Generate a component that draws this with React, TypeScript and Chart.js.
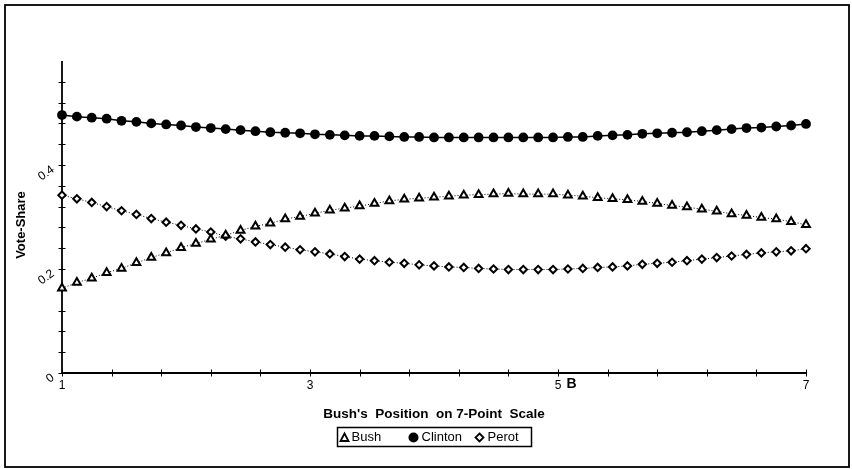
import { useEffect, useRef } from "react";
import { Chart, registerables } from "chart.js";

Chart.register(...registerables);

const positions = [1, 1.12, 1.24, 1.36, 1.48, 1.6, 1.72, 1.84, 1.96, 2.08, 2.2, 2.32, 2.44, 2.56, 2.68, 2.8, 2.92, 3.04, 3.16, 3.28, 3.4, 3.52, 3.64, 3.76, 3.88, 4, 4.12, 4.24, 4.36, 4.48, 4.6, 4.72, 4.84, 4.96, 5.08, 5.2, 5.32, 5.44, 5.56, 5.68, 5.8, 5.92, 6.04, 6.16, 6.28, 6.4, 6.52, 6.64, 6.76, 6.88, 7];

const bushShare = [0.163, 0.174, 0.182, 0.193, 0.201, 0.212, 0.222, 0.231, 0.241, 0.249,
  0.257, 0.265, 0.274, 0.282, 0.288, 0.296, 0.301, 0.307, 0.313, 0.317,
  0.321, 0.326, 0.331, 0.334, 0.336, 0.338, 0.340, 0.342, 0.343, 0.344,
  0.345, 0.344, 0.344, 0.344, 0.342, 0.340, 0.337, 0.335, 0.333, 0.330,
  0.326, 0.322, 0.319, 0.315, 0.311, 0.306, 0.303, 0.299, 0.296, 0.291, 0.285];

const clintonShare = [0.496, 0.493, 0.491, 0.489, 0.485, 0.483, 0.480, 0.478, 0.476, 0.473,
  0.471, 0.469, 0.467, 0.465, 0.463, 0.462, 0.461, 0.459, 0.458, 0.457,
  0.456, 0.456, 0.455, 0.454, 0.454, 0.453, 0.453, 0.453, 0.453, 0.453,
  0.453, 0.453, 0.453, 0.453, 0.454, 0.454, 0.456, 0.457, 0.458, 0.460,
  0.461, 0.462, 0.463, 0.465, 0.467, 0.469, 0.471, 0.472, 0.474, 0.476, 0.479];

const perotShare = [0.342, 0.335, 0.328, 0.320, 0.312, 0.305, 0.297, 0.290, 0.284, 0.277,
  0.271, 0.263, 0.258, 0.252, 0.247, 0.242, 0.237, 0.233, 0.229, 0.224,
  0.219, 0.216, 0.213, 0.211, 0.208, 0.206, 0.204, 0.203, 0.201, 0.200,
  0.199, 0.199, 0.199, 0.199, 0.200, 0.201, 0.203, 0.204, 0.206, 0.209,
  0.211, 0.213, 0.216, 0.219, 0.222, 0.225, 0.228, 0.231, 0.233, 0.235, 0.239];

const xTickLabels = [1, 3, 5, 7];
const yTickLabels = [0, 0.2, 0.4];
const xMinorStep = 0.4;
const yMinorStep = 0.04;
const X_MIN = 1, X_MAX = 7, Y_MIN = 0, Y_MAX = 0.6;
const bushMarkerPos = 5.11;

const FONT = "'Liberation Sans', Arial, Helvetica, sans-serif";

function pts(vals: number[]) {
  return vals.map((v, i) => ({ x: positions[i], y: v }));
}

const decor = {
  id: "decor",
  beforeDatasetsDraw(chart: any) {
    const { ctx, scales } = chart;
    const xs = scales.x, ys = scales.y;
    const x0 = xs.getPixelForValue(X_MIN), x1 = xs.getPixelForValue(X_MAX);
    const y0 = ys.getPixelForValue(Y_MIN), y1 = ys.getPixelForValue(Y_MAX);
    ctx.save();
    ctx.strokeStyle = "#000";
    ctx.lineWidth = 1.8;
    ctx.beginPath();
    ctx.moveTo(x0, y1);
    ctx.lineTo(x0, y0);
    ctx.lineTo(x1, y0);
    ctx.stroke();
    ctx.lineWidth = 1;
    ctx.beginPath();
    for (let v = X_MIN; v <= X_MAX + 1e-9; v += xMinorStep) {
      const p = Math.round(xs.getPixelForValue(v)) + 0.5;
      ctx.moveTo(p, y0 - 3.5);
      ctx.lineTo(p, y0 + 3.5);
    }
    for (let v = Y_MIN; v <= Y_MAX - 0.02; v += yMinorStep) {
      const p = Math.round(ys.getPixelForValue(v)) + 0.5;
      ctx.moveTo(x0 - 3.5, p);
      ctx.lineTo(x0 + 3.5, p);
    }
    ctx.stroke();
    ctx.restore();
  },
  afterDraw(chart: any) {
    const { ctx, scales, chartArea } = chart;
    const xs = scales.x, ys = scales.y;
    const x0 = xs.getPixelForValue(X_MIN);
    const y0 = ys.getPixelForValue(Y_MIN);
    const cx = (chartArea.left + chartArea.right) / 2;
    ctx.save();
    ctx.fillStyle = "#000";
    ctx.strokeStyle = "#000";

    // frame
    ctx.lineWidth = 1.8;
    ctx.strokeRect(5, 5, 844, 462);

    // y tick labels (tilted)
    ctx.font = `12px ${FONT}`;
    for (const v of yTickLabels) {
      const p = ys.getPixelForValue(v);
      ctx.save();
      ctx.translate(x0 - 7, p + 6);
      ctx.rotate(-Math.PI / 5);
      ctx.textAlign = "right";
      ctx.textBaseline = "alphabetic";
      ctx.fillText(String(v), 0, 0);
      ctx.restore();
    }

    // x tick labels
    ctx.textAlign = "center";
    ctx.textBaseline = "middle";
    ctx.font = `12px ${FONT}`;
    for (const v of xTickLabels) {
      ctx.fillText(String(v), xs.getPixelForValue(v), y0 + 13);
    }
    ctx.font = `bold 14px ${FONT}`;
    ctx.fillText("B", xs.getPixelForValue(bushMarkerPos), y0 + 11);

    // axis titles
    ctx.font = `bold 13.5px ${FONT}`;
    ctx.fillText("Bush's  Position  on 7-Point  Scale", cx, 414);
    ctx.save();
    ctx.translate(21, 225);
    ctx.rotate(-Math.PI / 2);
    ctx.font = `bold 13px ${FONT}`;
    ctx.fillText("Vote-Share", 0, 0);
    ctx.restore();

    // legend
    const bw = 194, bh = 19;
    const bx = Math.round(cx - bw / 2) + 0.5, by = 427.5;
    ctx.lineWidth = 1.5;
    ctx.strokeRect(bx, by, bw, bh);
    const ly = by + bh / 2 + 0.5;
    ctx.font = `13px ${FONT}`;
    ctx.textAlign = "left";
    // triangle
    ctx.lineWidth = 1.8;
    ctx.beginPath();
    ctx.moveTo(bx + 7, ly - 4);
    ctx.lineTo(bx + 11, ly + 3.5);
    ctx.lineTo(bx + 3, ly + 3.5);
    ctx.closePath();
    ctx.stroke();
    ctx.fillText("Bush", bx + 14, ly);
    // circle
    ctx.beginPath();
    ctx.arc(bx + 76, ly, 5, 0, Math.PI * 2);
    ctx.fill();
    ctx.fillText("Clinton", bx + 84, ly);
    // diamond
    ctx.beginPath();
    ctx.moveTo(bx + 142, ly - 4);
    ctx.lineTo(bx + 146, ly);
    ctx.lineTo(bx + 142, ly + 4);
    ctx.lineTo(bx + 138, ly);
    ctx.closePath();
    ctx.stroke();
    ctx.fillText("Perot", bx + 150, ly);
    ctx.restore();
  },
};

export default function App() {
  const ref = useRef<HTMLCanvasElement | null>(null);
  useEffect(() => {
    if (!ref.current) return;
    const chart = new Chart(ref.current, {
      type: "line",
      data: {
        datasets: [
          {
            label: "Bush",
            data: pts(bushShare),
            borderColor: "#000",
            borderWidth: 1,
            borderDash: [1, 2],
            pointStyle: "triangle",
            pointRadius: 4.5,
            pointBorderWidth: 2,
            pointBackgroundColor: "#fff",
            pointBorderColor: "#000",
            clip: false,
          },
          {
            label: "Clinton",
            data: pts(clintonShare),
            borderColor: "#000",
            borderWidth: 1.5,
            pointStyle: "circle",
            pointRadius: 4.9,
            pointBorderWidth: 0,
            pointBackgroundColor: "#000",
            clip: false,
          },
          {
            label: "Perot",
            data: pts(perotShare),
            borderColor: "#000",
            borderWidth: 1,
            borderDash: [1, 2],
            pointStyle: "rectRot",
            pointRadius: 3.7,
            pointBorderWidth: 2,
            pointBackgroundColor: "#fff",
            pointBorderColor: "#000",
            clip: false,
          },
        ],
      },
      options: {
        animation: false,
        responsive: false,
        events: [],
        layout: { padding: { left: 62, right: 46, top: 61, bottom: 96 } },
        scales: {
          x: { type: "linear", min: X_MIN, max: X_MAX, display: false },
          y: { type: "linear", min: Y_MIN, max: Y_MAX, display: false },
        },
        plugins: { legend: { display: false }, tooltip: { enabled: false } },
      },
      plugins: [decor],
    });
    return () => chart.destroy();
  }, []);
  return (
    <div style={{ position: "absolute", left: 0, top: 0, width: 852, height: 469, background: "#fff" }}>
      <canvas ref={ref} width={852} height={469} />
    </div>
  );
}
